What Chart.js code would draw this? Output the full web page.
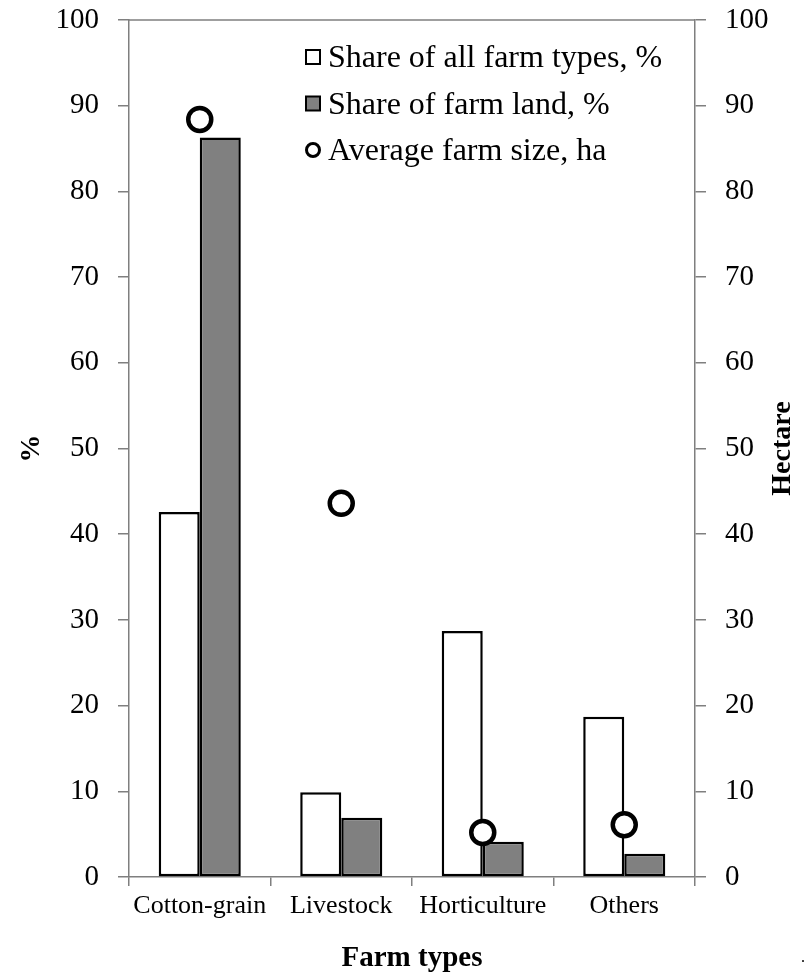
<!DOCTYPE html>
<html>
<head>
<meta charset="utf-8">
<title>Farm types</title>
<script src="https://cdn.jsdelivr.net/npm/chart.js@4.4.1/dist/chart.umd.min.js"></script>
<style>
  html, body { margin: 0; padding: 0; background: #fff; }
</style>
</head>
<body>
<canvas id="farmChart" width="808" height="976"></canvas>
<script>
// values
const farmTypes = ["Cotton-grain", "Livestock", "Horticulture", "Others"];
const shareOfFarms = [42.6, 9.9, 28.7, 18.7];   // %
const shareOfLand = [86.3, 6.9, 4.1, 2.7];      // %
const avgFarmSize = [88.4, 43.6, 5.2, 6.1];     // ha
const seriesNames = ["Share of all farm types, %", "Share of farm land, %", "Average farm size, ha"];
const tickValues = [0, 10, 20, 30, 40, 50, 60, 70, 80, 90, 100];

const SERIF = "'Liberation Serif', 'Times New Roman', serif";
const AXIS_GREY = "#7f7f7f";

const setTicks = scale => { scale.ticks = tickValues.map(v => ({ value: v })); };
// fixed axis widths, and no extra room for the top label
const fitY = w => s => { s.width = w; s.paddingTop = 0; s.paddingBottom = 0; };

// legend, right title, top frame line
const extras = {
  id: "extras",
  afterDraw(chart) {
    const ctx = chart.ctx;
    const area = chart.chartArea;
    ctx.save();

    ctx.strokeStyle = AXIS_GREY;
    ctx.lineWidth = 1.5;
    ctx.beginPath();
    ctx.moveTo(area.left, area.top);
    ctx.lineTo(area.right, area.top);
    ctx.stroke();

    // legend
    const lx = area.left + 184, ly = area.top + 37, gap = 46.5;
    ctx.font = "32px " + SERIF;
    ctx.textAlign = "left";
    ctx.textBaseline = "alphabetic";
    chart.data.datasets.forEach((ds, i) => {
      const cy = ly + i * gap;
      ctx.strokeStyle = "#000";
      if (ds.type === "line") {
        ctx.lineWidth = 3;
        ctx.fillStyle = "#fff";
        ctx.beginPath();
        ctx.arc(lx, cy, 6.5, 0, Math.PI * 2);
        ctx.fill();
        ctx.stroke();
      } else {
        ctx.lineWidth = 2;
        ctx.fillStyle = ds.backgroundColor;
        ctx.fillRect(lx - 7, cy - 7, 14, 14);
        ctx.strokeRect(lx - 7, cy - 7, 14, 14);
      }
      ctx.fillStyle = "#000";
      ctx.fillText(ds.label, lx + 15, cy + 10);
    });

    // right axis title, reads bottom to top
    ctx.font = "bold 28px " + SERIF;
    ctx.textAlign = "center";
    ctx.textBaseline = "middle";
    ctx.translate(783, (area.top + area.bottom) / 2);
    ctx.rotate(-Math.PI / 2);
    ctx.fillText("Hectare", 0, 0);
    ctx.restore();

    // stray dot at the bottom right of the original
    ctx.save();
    ctx.font = "16px " + SERIF;
    ctx.fillStyle = "#000";
    ctx.fillText(".", 801, 962);
    ctx.restore();
  }
};

const barBase = {
  borderColor: "#000",
  borderWidth: 2.5,
  borderSkipped: false,
  categoryPercentage: 0.58,
  barPercentage: 1,
  yAxisID: "y",
  order: 1
};

new Chart(document.getElementById("farmChart"), {
  type: "bar",
  data: {
    labels: farmTypes,
    datasets: [
      Object.assign({ label: seriesNames[0], data: shareOfFarms, backgroundColor: "#ffffff" }, barBase),
      Object.assign({ label: seriesNames[1], data: shareOfLand, backgroundColor: "#808080" }, barBase),
      {
        type: "line",
        label: seriesNames[2],
        data: avgFarmSize,
        yAxisID: "y1",
        showLine: false,
        pointStyle: "circle",
        pointRadius: 11.5,
        pointHoverRadius: 11.5,
        pointBorderWidth: 4.5,
        pointBackgroundColor: "#fff",
        pointBorderColor: "#000",
        order: 0
      }
    ]
  },
  options: {
    responsive: false,
    devicePixelRatio: 1,
    animation: false,
    layout: { padding: { top: 20, left: 0, right: 0, bottom: 0 } },
    plugins: {
      legend: { display: false },
      tooltip: { enabled: false }
    },
    scales: {
      x: {
        offset: true,
        afterFit: s => { s.height = 99; },
        grid: { offset: true, drawOnChartArea: false, tickLength: 9, color: AXIS_GREY, lineWidth: 1.5 },
        border: { color: AXIS_GREY, width: 1.5 },
        ticks: { color: "#000", padding: 5, font: { family: SERIF, size: 26 } },
        title: { display: true, text: "Farm types", color: "#000", padding: { top: 0, bottom: 0 }, font: { family: SERIF, size: 29, weight: "bold" } }
      },
      y: {
        position: "left",
        min: 0, max: 100,
        afterBuildTicks: setTicks,
        afterFit: fitY(129),
        grid: { drawOnChartArea: false, tickLength: 11, color: AXIS_GREY, lineWidth: 1.5 },
        border: { color: AXIS_GREY, width: 1.5 },
        ticks: { color: "#000", padding: 19, font: { family: SERIF, size: 29 } },
        title: { display: true, text: "%", color: "#000", padding: { top: 15, bottom: 0 }, font: { family: SERIF, size: 28, weight: "bold" } }
      },
      y1: {
        position: "right",
        min: 0, max: 100,
        afterBuildTicks: setTicks,
        afterFit: fitY(113),
        grid: { drawOnChartArea: false, tickLength: 11, color: AXIS_GREY, lineWidth: 1.5 },
        border: { color: AXIS_GREY, width: 1.5 },
        ticks: { color: "#000", padding: 19, font: { family: SERIF, size: 29 } }
      }
    }
  },
  plugins: [extras]
});
</script>
</body>
</html>
